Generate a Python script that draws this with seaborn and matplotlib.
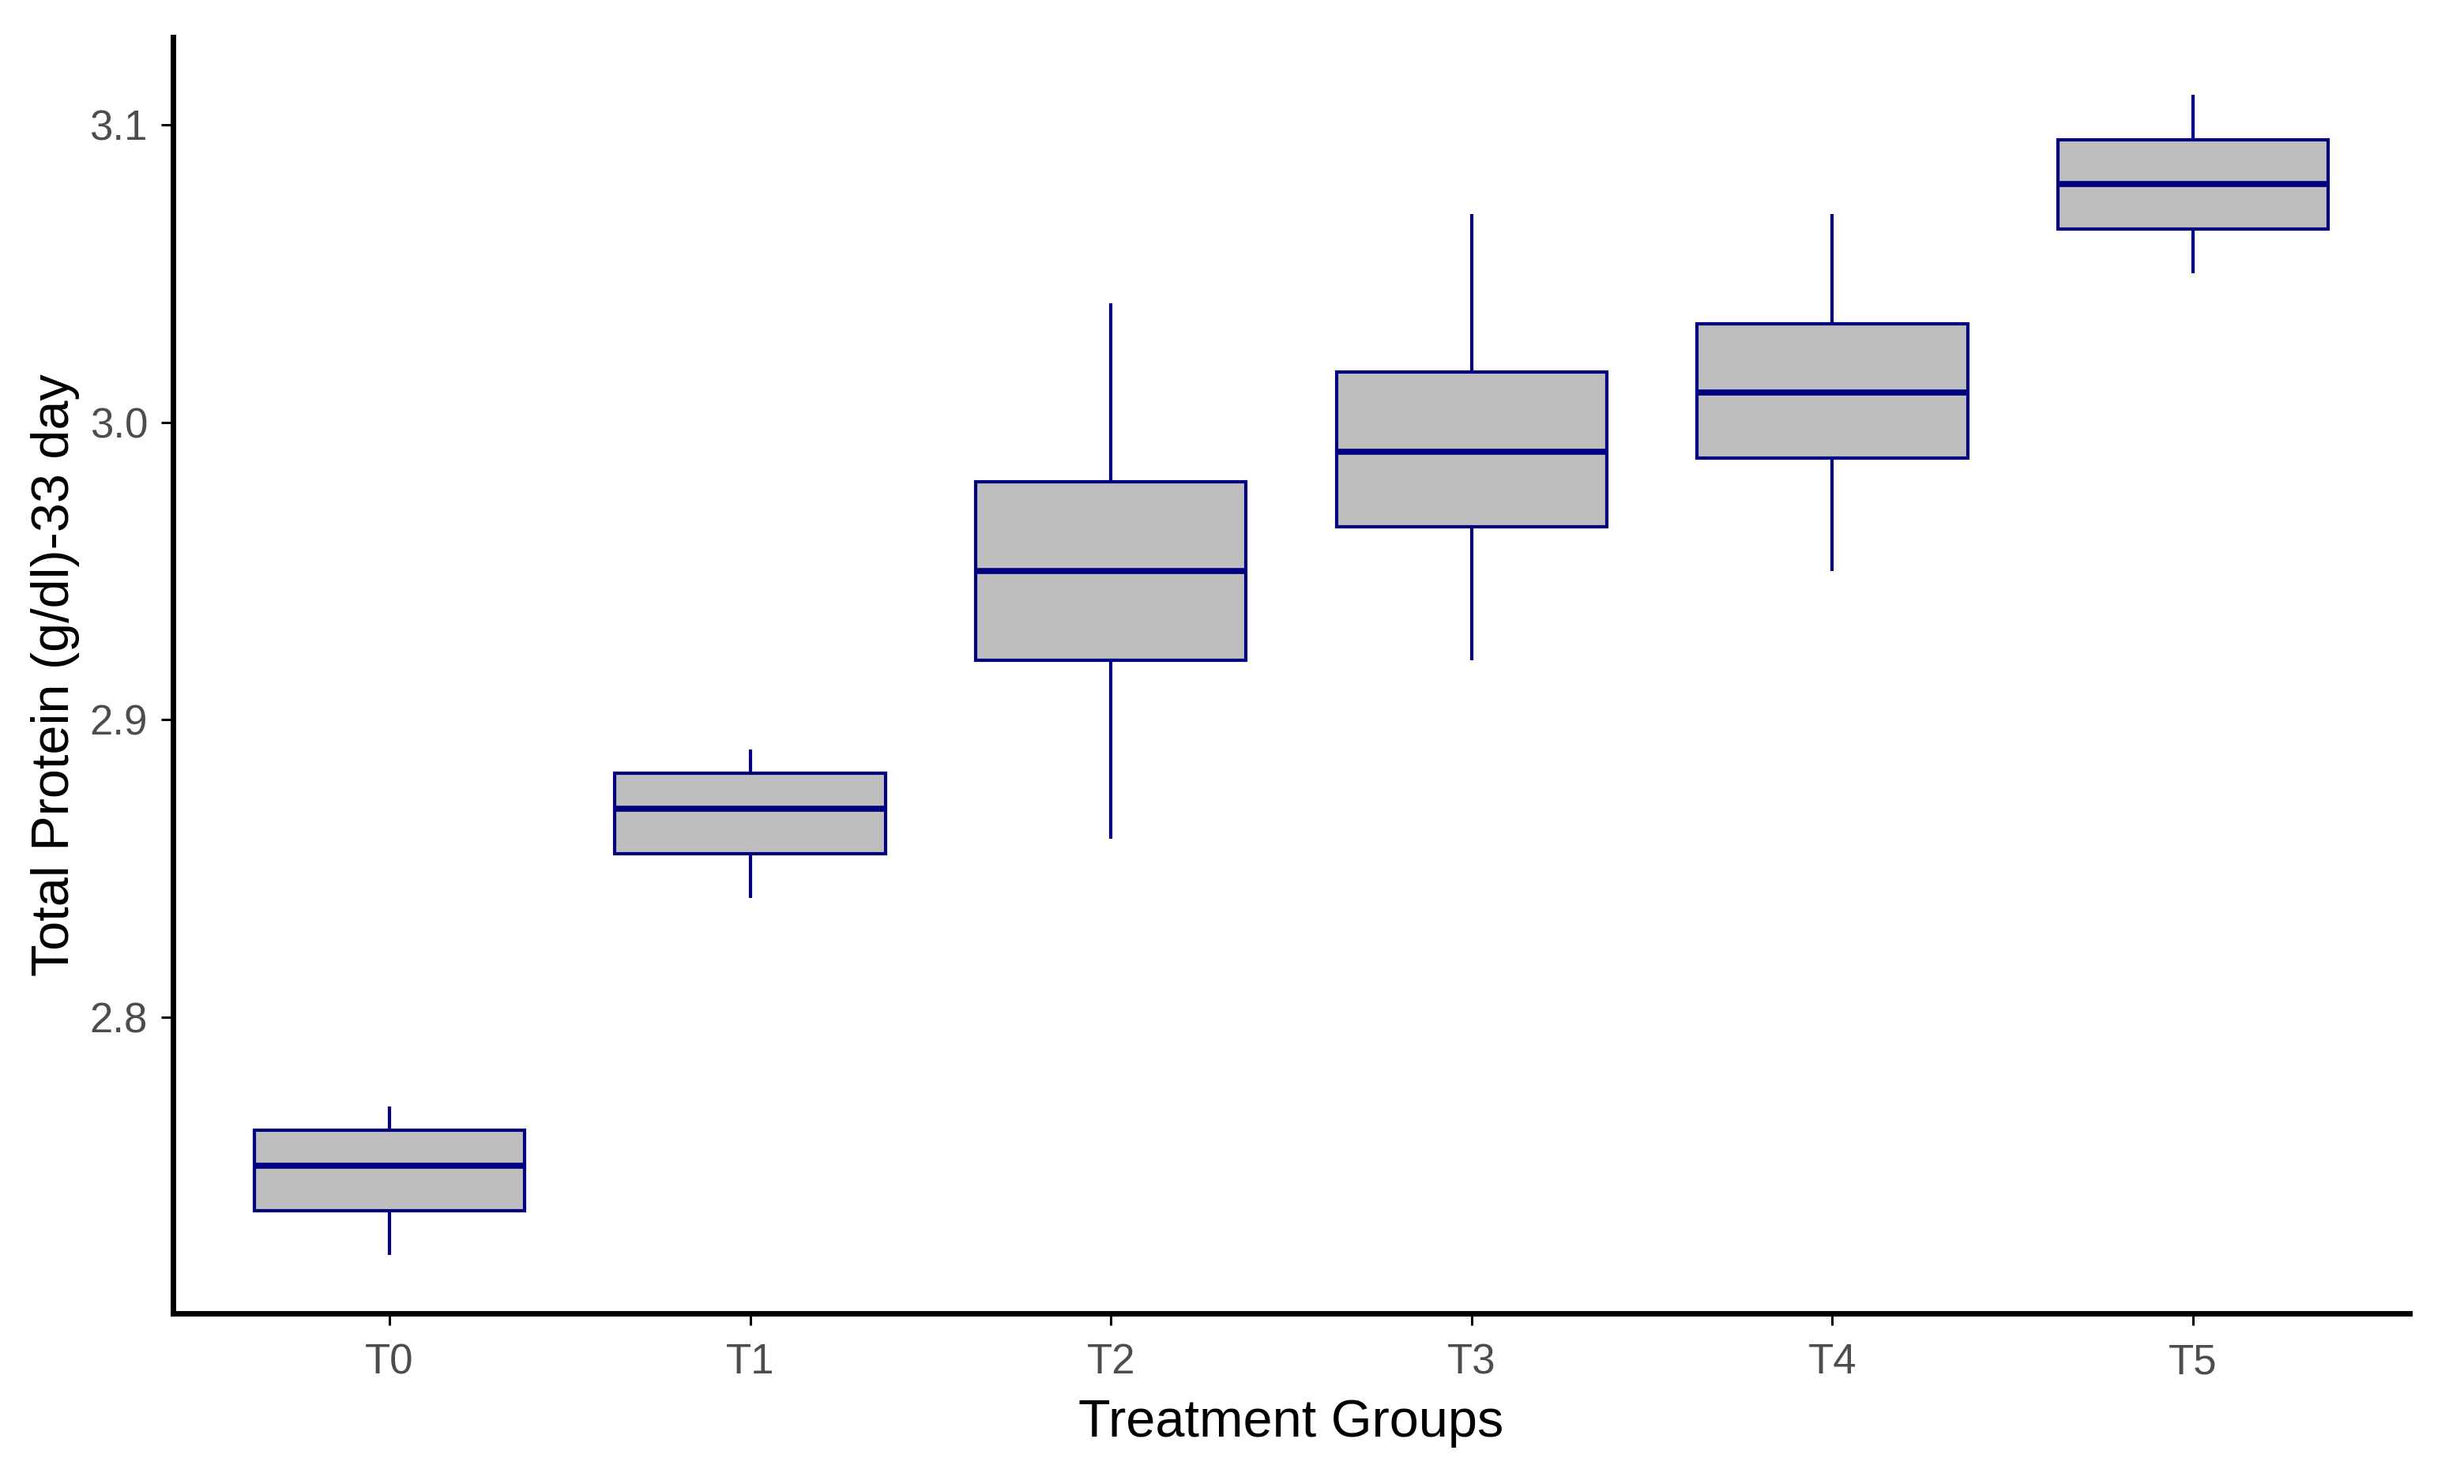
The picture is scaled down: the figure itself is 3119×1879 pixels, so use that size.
import pandas as pd
import matplotlib
matplotlib.use("Agg")
import matplotlib.pyplot as plt
import seaborn as sns

# groups and the five readings per group (min, Q1, median, Q3, max)
groups = ["T0", "T1", "T2", "T3", "T4", "T5"]
t0 = [2.720, 2.735, 2.750, 2.762, 2.770]
t1 = [2.840, 2.855, 2.870, 2.882, 2.890]
t2 = [2.860, 2.920, 2.950, 2.980, 3.040]
t3 = [2.920, 2.965, 2.990, 3.017, 3.070]
t4 = [2.950, 2.988, 3.010, 3.033, 3.070]
t5 = [3.050, 3.065, 3.080, 3.095, 3.110]
yticks = [2.8, 2.9, 3.0, 3.1]

rows = []
for g, vals in zip(groups, [t0, t1, t2, t3, t4, t5]):
    for v in vals:
        rows.append({"Group": g, "Protein": v})
df = pd.DataFrame(rows)

sns.set_style("white")
plt.rcParams["font.family"] = ["Liberation Sans", "DejaVu Sans"]

fig = plt.figure(figsize=(31.19, 18.79), dpi=100)
ax = fig.add_axes([0.0702, 0.115, 0.9077, 0.860])

sns.boxplot(data=df, x="Group", y="Protein", order=groups, ax=ax,
            color="#BEBEBE", linecolor="#000080", saturation=1,
            width=0.75, linewidth=3.0, whis=(0, 100), showcaps=False,
            medianprops=dict(linewidth=5.5, color="#000080"))

# ggplot style limits (5% expansion, 0.6 on discrete axis)
ax.set_xlim(-0.6, 5.6)
ax.set_ylim(2.7005, 3.1295)
ax.set_yticks(yticks)
ax.set_yticklabels([f"{t:.1f}" for t in yticks])

sns.despine(ax=ax)
for s in ["left", "bottom"]:
    ax.spines[s].set_linewidth(5)
    ax.spines[s].set_color("black")

ax.tick_params(axis="both", which="major", direction="out", length=11, width=2.2,
               color="black", labelcolor="#4D4D4D", labelsize=38, left=True, bottom=True)
ax.tick_params(axis="y", pad=12)
ax.tick_params(axis="x", pad=16)

ax.set_xlabel("Treatment Groups", fontsize=48, color="black")
ax.set_ylabel("Total Protein (g/dl)-33 day", fontsize=48, color="black")
ax.xaxis.set_label_coords(0.5, -0.067)
ax.yaxis.set_label_coords(-0.0415, 0.5)

plt.savefig("out.png", dpi=100)
